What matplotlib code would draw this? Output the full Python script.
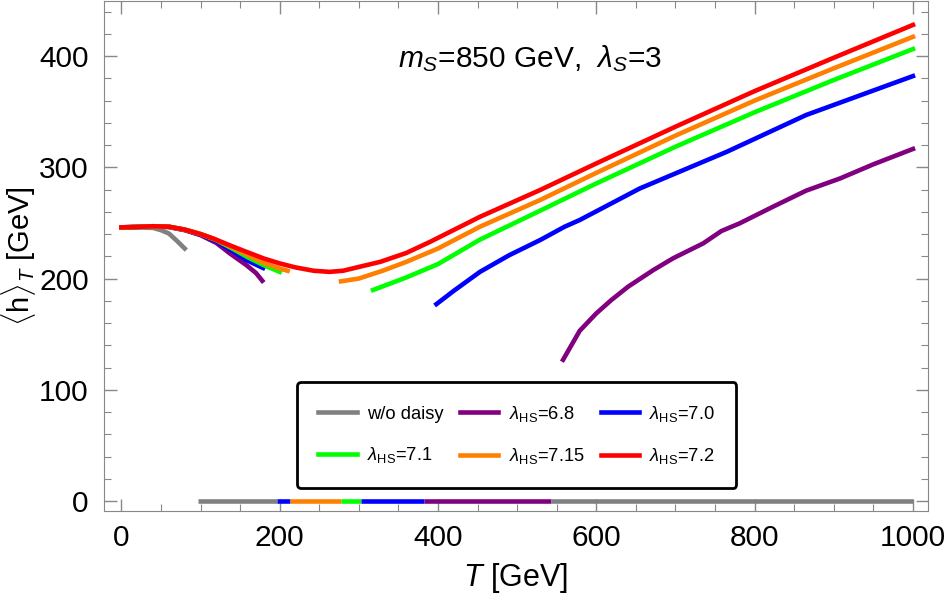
import matplotlib.pyplot as plt
from matplotlib.ticker import MultipleLocator

plt.rcParams['font.family'] = ['Liberation Sans', 'DejaVu Sans']
plt.rcParams['mathtext.fontset'] = 'custom'
plt.rcParams['mathtext.rm'] = 'Liberation Sans'
plt.rcParams['mathtext.it'] = 'Liberation Sans:italic'

# w/o daisy
T_nd = [0, 20, 40, 50, 60, 70, 80]
h_nd = [246, 246, 245.5, 243.5, 240.5, 234, 227]

# lambda_HS = 6.8
T_68a = [0, 20, 40, 60, 80, 100, 120, 137, 158, 170, 178]
h_68a = [246, 246.4, 247, 246.3, 243.5, 239, 232, 222.6, 212, 205, 198]
T_68b = [558, 579, 600, 619, 640, 672, 697, 735, 758, 781, 823, 865, 908, 950, 1000]
h_68b = [127, 153, 168.7, 180.7, 192.6, 207.6, 218.2, 231.6, 242.7, 249.6, 264.5, 279, 290, 302.7, 316.5]

# lambda_HS = 7.0
T_70a = [0, 20, 40, 60, 80, 100, 120, 140, 158, 170, 179]
h_70a = [246, 246.4, 247, 246.5, 243.8, 239.5, 233.5, 225, 216.6, 212.5, 209.5]
T_70b = [398, 420, 453, 490, 529, 560, 579, 655, 765, 865, 1000]
h_70b = [177, 189, 206, 221, 234.6, 246.6, 252.6, 281, 314, 347, 382]

# lambda_HS = 7.1
T_71a = [0, 20, 40, 60, 80, 100, 120, 140, 160, 180, 200]
h_71a = [246, 246.4, 247, 246.6, 244, 240, 234.5, 227, 219, 212, 206]
T_71b = [318, 360, 400, 453, 529, 600, 700, 800, 900, 1000]
h_71b = [189.7, 201, 213, 235, 261, 285.5, 318.5, 349.5, 378.5, 406.3]

# lambda_HS = 7.15
T_715a = [0, 20, 40, 60, 80, 100, 120, 140, 160, 180, 200, 210]
h_715a = [246, 246.4, 247, 246.6, 244, 240, 234.7, 228, 221, 214, 209, 207]
T_715b = [277.5, 300, 330, 360, 400, 453, 529, 600, 700, 800, 900, 1000]
h_715b = [197.5, 200, 207, 215, 227, 246.6, 270.6, 295, 328.5, 360, 389, 417.3]

# lambda_HS = 7.2
T_72 = [0, 20, 40, 60, 80, 100, 116, 140, 158, 180, 200, 220, 243, 263, 280, 301, 327,
        360, 390, 453, 529, 600, 700, 800, 900, 1000]
h_72 = [246, 246.4, 247, 246.6, 244, 240, 236, 229, 224, 218, 213.6, 210, 207, 206, 207,
        210.6, 215, 223, 233, 255.5, 279.6, 303.5, 336.5, 368.5, 398.5, 428]

# coloured bar along h = 0
bar_edges = [97, 197, 213, 277, 303, 382, 543, 1000]
bar_colors = ['gray', 'blue', '#ff8000', '#00ff00', 'blue', 'purple', 'gray']

fig = plt.figure(figsize=(9.47, 6.0), dpi=100)
ax = fig.add_axes([0.1098, 0.1483, 0.8701, 0.8500])

lw = 3.3
for i in range(len(bar_colors)):
    ax.plot(bar_edges[i:i + 2], [0, 0], color=bar_colors[i], lw=lw, solid_capstyle='butt')

l_nd, = ax.plot(T_nd, h_nd, color='gray', lw=lw)
l_68, = ax.plot(T_68a, h_68a, color='purple', lw=lw)
ax.plot(T_68b, h_68b, color='purple', lw=lw)
l_70, = ax.plot(T_70a, h_70a, color='blue', lw=lw)
ax.plot(T_70b, h_70b, color='blue', lw=lw)
l_71, = ax.plot(T_71a, h_71a, color='#00ff00', lw=lw)
ax.plot(T_71b, h_71b, color='#00ff00', lw=lw)
l_715, = ax.plot(T_715a, h_715a, color='#ff8000', lw=lw)
ax.plot(T_715b, h_715b, color='#ff8000', lw=lw)
l_72, = ax.plot(T_72, h_72, color='red', lw=lw)

ax.set_xlim(-22, 1019)
ax.set_ylim(-9, 449.5)
ax.xaxis.set_major_locator(MultipleLocator(200))
ax.xaxis.set_minor_locator(MultipleLocator(50))
ax.yaxis.set_major_locator(MultipleLocator(100))
ax.yaxis.set_minor_locator(MultipleLocator(20))
ax.tick_params(which='both', direction='in', top=True, right=True, color='#888888',
               labelsize=21.5)
ax.tick_params(axis='x', pad=9)
ax.tick_params(axis='y', pad=11)
ax.tick_params(which='major', length=9, width=1)
ax.tick_params(which='minor', length=5, width=0.8)
for s in ax.spines.values():
    s.set_color('#888888')

ax.set_xlabel(r'$T$ [GeV]', fontsize=22, labelpad=7)
ax.set_ylabel(r'$\langle$h$\rangle_T$ [GeV]', fontsize=21, labelpad=1)

ax.text(516, 398, r'$m_S$=850 GeV,  $\lambda_S$=3', fontsize=21.5, ha='center', va='center')

handles = [l_nd, l_71, l_68, l_715, l_70, l_72]
labels = ['w/o daisy', r'$\lambda_{\rm HS}$=7.1', r'$\lambda_{\rm HS}$=6.8',
          r'$\lambda_{\rm HS}$=7.15', r'$\lambda_{\rm HS}$=7.0', r'$\lambda_{\rm HS}$=7.2']
leg = ax.legend(handles, labels, ncol=3, fontsize=13.2, loc='center',
                bbox_to_anchor=(0.501, 0.149), frameon=True, fancybox=True,
                handlelength=2.1, columnspacing=0.9, labelspacing=1.25,
                borderpad=1.15, handletextpad=0.55)
leg.get_frame().set_edgecolor('black')
leg.get_frame().set_linewidth(2)
leg.get_frame().set_alpha(1)

fig.savefig('out.png', dpi=100)
